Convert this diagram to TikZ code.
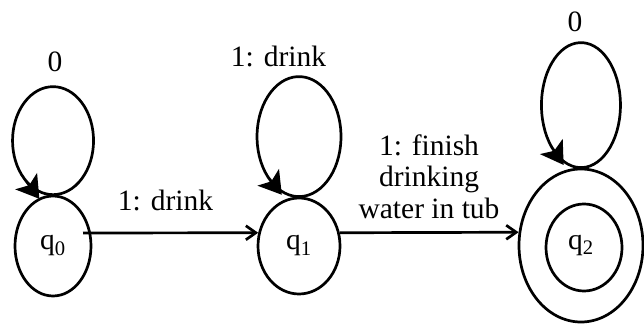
\documentclass[tikz,border=0pt]{standalone}
\usepackage{fontspec}
\setmainfont{Liberation Serif}
\usepackage{tikz}
\usetikzlibrary{arrows.meta,positioning,shapes}

\begin{document}
\begin{tikzpicture}[x=1pt, y=1pt,
        every node/.append style={font=\fontsize{29.5}{31.5}\selectfont},
        state/.style={draw, ellipse, line width=2.7pt, inner sep=0pt},
        lab/.style={inner sep=0pt, align=center},
        arr/.style={-{Straight Barb[length=10pt, width=14pt]}, line width=2.7pt},
        selfloop/.style={line width=2.7pt, -{Stealth[length=22pt, width=27pt, inset=5pt]}}
    ]
        \useasboundingbox (0, 0) rectangle (644, 324);

        % States
        \node[state, minimum width=76pt, minimum height=100pt] (q0) at (53, 78) {q\textsubscript{0}};
        \node[state, minimum width=82pt, minimum height=96pt] (q1) at (299, 78) {q\textsubscript{1}};
        \node[state, minimum width=124pt, minimum height=153pt] (q2) at (581, 78.5) {q\textsubscript{2}};
        \node[state, minimum width=76pt, minimum height=87pt] (q2in) at (584, 76.5) {};

        % Self loops
        \draw[selfloop] ([shift={(-28.6, 15.8)}]q0.north) arc[start angle=225, end angle=585, x radius=40.5, y radius=54] -- ++(15, -20);
        \draw[selfloop] ([shift={(-31.2, 19.9)}]q1.north) arc[start angle=222, end angle=582, x radius=42, y radius=60] -- ++(14, -18);
        \draw[selfloop] ([shift={(-29.4, 20.7)}]q2.north) arc[start angle=222, end angle=582, x radius=39.5, y radius=62.5] -- ++(12, -18);

        % Transitions
        \draw[arr] ([shift={(30, 13)}]q0.center) -- (q1.162);
        \draw[arr] (q1.18) -- (q2.168);

        % Labels
        \node[lab] (l0) at (55, 262.5) {0};
        \node[lab] (l1) at (278.5, 267.5) {1: drink};
        \node[lab] (l2) at (575, 302.5) {0};
        \node[lab] (t01) at (165.5, 123.5) {1: drink};
        \node[lab] (t12) at (429, 147.5) {1: finish\\drinking\\water in tub};
    \end{tikzpicture}
\end{document}
